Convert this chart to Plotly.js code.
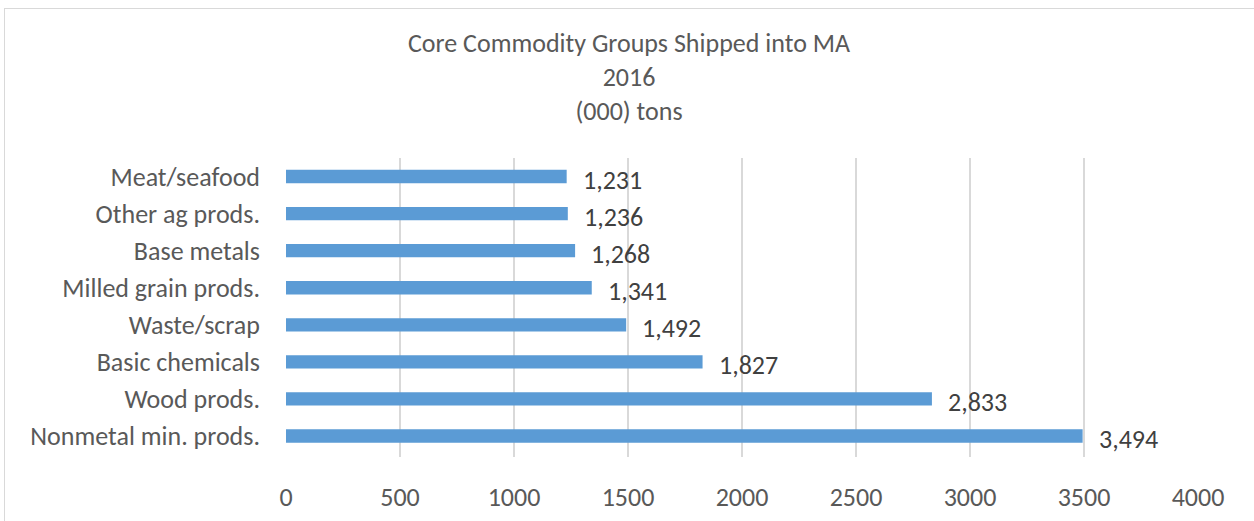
<!DOCTYPE html>
<html><head><meta charset="utf-8">
<script src="https://cdn.plot.ly/plotly-3.0.1.min.js"></script>
<style>
html,body{margin:0;padding:0;background:#fff;overflow:hidden}
#frame{position:absolute;left:4px;top:8px;width:1260px;height:530px;border:1px solid #d9d9d9;box-sizing:border-box}
#chart{position:absolute;left:0;top:0;width:1254px;height:521px}
</style></head>
<body>
<div id="frame"></div>
<div id="chart"></div>
<script>
const categories = ["Nonmetal min. prods.","Wood prods.","Basic chemicals","Waste/scrap","Milled grain prods.","Base metals","Other ag prods.","Meat/seafood"];
const values = [3494,2833,1827,1492,1341,1268,1236,1231];
const tickVals = [0,500,1000,1500,2000,2500,3000,3500,4000];
const titleLines = ["Core Commodity Groups Shipped into MA","2016","(000) tons"];

const FONT = "Calibri, Carlito, 'Open Sans', sans-serif";
const fmt = v => v.toLocaleString('en-US');

const trace = {
  type:'bar', orientation:'h', x: values, y: categories,
  marker:{color:'#5b9bd5'}, hoverinfo:'none'
};
const annotations = categories.map((c,i)=>({
  x: values[i], y: c, xref:'x', yref:'y', text: fmt(values[i]),
  showarrow:false, xanchor:'left', xshift:14, yshift:-3,
  font:{family:FONT, size:26, color:'#404040'}
}));
annotations.push({
  xref:'paper', yref:'paper', x:0.376, y:1, yanchor:'middle', yshift:81,
  text: titleLines.join('<br>'), showarrow:false, align:'center',
  font:{family:FONT, size:26, color:'#595959'}
});
const layout = {
  width:1254, height:521,
  margin:{l:286, r:56, t:158, b:64, pad:0},
  paper_bgcolor:'rgba(0,0,0,0)', plot_bgcolor:'rgba(0,0,0,0)',
  showlegend:false, bargap:0.64,
  xaxis:{range:[0,4000], tickvals:tickVals, ticktext:tickVals.map(String),
    showgrid:true, gridcolor:'#d9d9d9', gridwidth:1.5, zeroline:false, showline:false,
    ticks:'', ticklabelstandoff:22,
    tickfont:{family:FONT, size:26, color:'#595959'}, fixedrange:true},
  yaxis:{showgrid:false, zeroline:false, showline:false, ticks:'', ticklabelstandoff:25,
    tickfont:{family:FONT, size:26, color:'#595959'}, fixedrange:true},
  annotations: annotations
};
Plotly.newPlot('chart',[trace],layout,{displayModeBar:false,staticPlot:true});
</script>
</body></html>
